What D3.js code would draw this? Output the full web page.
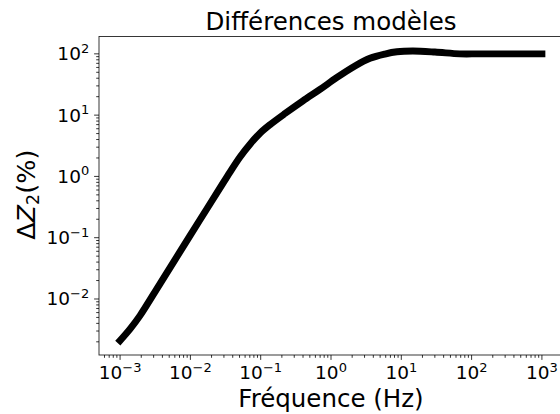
<!DOCTYPE html>
<html>
<head>
<meta charset="utf-8">
<script src="https://cdn.jsdelivr.net/npm/d3@7"></script>
<style>
  html, body { margin: 0; padding: 0; background: #fff; }
  svg { display: block; }
  text { font-family: "DejaVu Sans", sans-serif; fill: #000; }
</style>
</head>
<body>
<svg id="chart" width="560" height="414"></svg>
<script>
// Data
const freq = [0.001, 0.00139, 0.00192, 0.00371, 0.00713, 0.0137, 0.0264, 0.0366, 0.0508, 0.0705, 0.0978, 0.1355,
              0.2213, 0.399, 0.697, 1.216, 2.193, 3.58, 5.85, 8.67, 14.6, 30.1, 68.1, 131, 1000];
const deltaZ2 = [0.0021, 0.00326, 0.00536, 0.01786, 0.0592, 0.196, 0.649, 1.18, 2.08, 3.36, 5.07, 6.97,
                 10.6, 17.1, 26.3, 41.2, 63.4, 84.5, 99.3, 108, 111, 107, 100, 100, 100];
const xTickExps = [-3, -2, -1, 0, 1, 2, 3];
const yTickExps = [-2, -1, 0, 1, 2];
const titleText = "Différences modèles";
const xLabelText = "Fréquence (Hz)";

const svg = d3.select("#chart");
const L = 99, R = 563, T = 36.5, B = 355;

const x = d3.scaleLog().domain([Math.pow(10, -3.3), Math.pow(10, 3.3)]).range([L, R]);
const y = d3.scaleLog().domain([Math.pow(10, -2.914), Math.pow(10, 2.283)]).range([B, T]);

const sup = s => s.replace("-", "\u2212");

// line
const line = d3.line()
  .x((d, i) => x(freq[i]))
  .y(d => y(d))
  .curve(d3.curveCatmullRom.alpha(0.5));

svg.append("path")
  .attr("d", line(deltaZ2))
  .attr("fill", "none")
  .attr("stroke", "#000")
  .attr("stroke-width", 6.9)
  .attr("stroke-linecap", "square")
  .attr("stroke-linejoin", "round");

// spines
const spine = svg.append("g").attr("stroke", "#222").attr("stroke-width", 0.9).attr("fill", "none");
spine.append("rect").attr("x", L).attr("y", T).attr("width", R - L).attr("height", B - T);

// minor ticks
function minorTicks(scale) {
  const [d0, d1] = scale.domain();
  const out = [];
  for (let e = Math.floor(Math.log10(d0)); e <= Math.ceil(Math.log10(d1)); e++) {
    for (let m = 2; m <= 9; m++) {
      const v = m * Math.pow(10, e);
      if (v >= d0 && v <= d1) out.push(v);
    }
  }
  return out;
}
const tg = svg.append("g").attr("stroke", "#000").attr("stroke-width", 0.8);
minorTicks(x).forEach(v => {
  tg.append("line").attr("x1", x(v)).attr("x2", x(v)).attr("y1", B).attr("y2", B + 2.8);
});
minorTicks(y).forEach(v => {
  tg.append("line").attr("y1", y(v)).attr("y2", y(v)).attr("x1", L).attr("x2", L - 2.8);
});
xTickExps.forEach(e => {
  const v = Math.pow(10, e);
  tg.append("line").attr("x1", x(v)).attr("x2", x(v)).attr("y1", B).attr("y2", B + 4.9);
});
yTickExps.forEach(e => {
  const v = Math.pow(10, e);
  tg.append("line").attr("y1", y(v)).attr("y2", y(v)).attr("x1", L).attr("x2", L - 4.9);
});

// tick labels
function powLabel(g, px, py, anchor, e) {
  const t = g.append("text").attr("x", px).attr("y", py).attr("text-anchor", anchor).attr("font-size", 18.5);
  t.append("tspan").text("10");
  t.append("tspan").attr("dy", -7.5).attr("font-size", 13).text(sup(String(e)));
  return t;
}
const lg = svg.append("g");
xTickExps.forEach(e => powLabel(lg, x(Math.pow(10, e)), 379.3, "middle", e));
yTickExps.forEach(e => powLabel(lg, L - 9.8, y(Math.pow(10, e)) + 6.4, "end", e));

// title
svg.append("text").attr("x", (L + R) / 2).attr("y", 30.3).attr("text-anchor", "middle")
  .attr("font-size", 24.5).text(titleText);

// x label
svg.append("text").attr("x", (L + R) / 2).attr("y", 407.3).attr("text-anchor", "middle")
  .attr("font-size", 24.5).text(xLabelText);

// y label: ΔZ₂(%)
const yl = svg.append("text")
  .attr("transform", `translate(35,${(T + B) / 2 - 1}) rotate(-90)`)
  .attr("text-anchor", "middle").attr("font-size", 25.5);
yl.append("tspan").text("\u0394");
yl.append("tspan").attr("font-style", "italic").text("Z");
yl.append("tspan").attr("font-size", 17.5).attr("dy", 4).text("2");
yl.append("tspan").attr("dy", -4).text("(%)");
</script>
</body>
</html>
